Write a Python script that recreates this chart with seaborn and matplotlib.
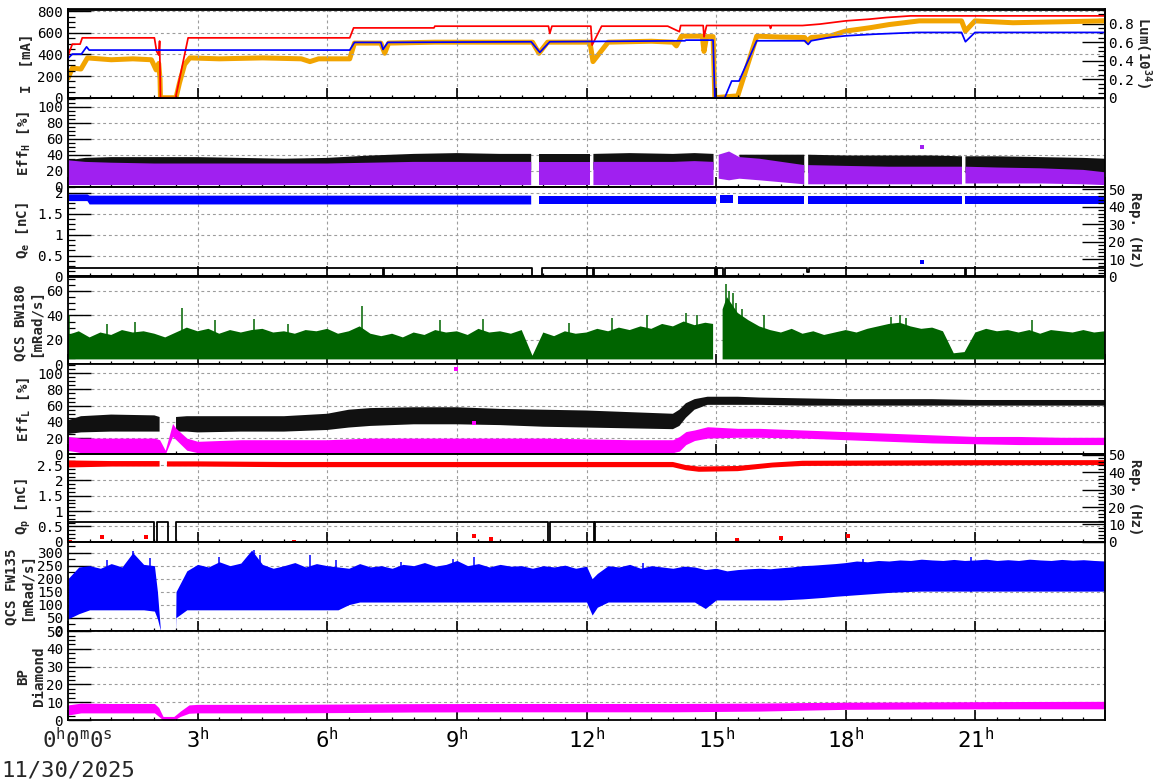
import numpy as np
import matplotlib
matplotlib.use("Agg")
import matplotlib.pyplot as plt
import seaborn as sns
from matplotlib.ticker import MultipleLocator, AutoMinorLocator, FuncFormatter

nan = np.nan

# ---------------- Panel 1: beam currents [mA] and luminosity ----------------
t_red = [0, 0.1, 0.28, 0.33, 2.0, 2.05, 2.1, 2.12, 2.14, 2.49,
         2.78, 6.52, 6.61, 8.47, 8.49, 11.12, 11.15, 11.2, 12.1, 12.13,
         12.35, 13.88, 14.15, 14.18, 14.7, 14.72, 14.78, 16.24, 16.26, 16.28,
         17.0, 17.4, 18.0, 18.56, 18.94, 19.5, 24]
i_red = [390, 495, 495, 553, 553, 430, 394, 523, 0, 0,
         553, 553, 645, 645, 661, 661, 594, 661, 661, 486,
         661, 661, 610, 667, 667, 563, 667, 667, 640, 667,
         667, 680, 710, 726, 741, 756, 756]

t_blue = [0, 0.1, 0.31, 0.43, 0.49, 6.52, 6.63, 7.24, 7.29, 7.4,
          10.72, 10.92, 11.15, 14.28, 14.3, 14.93, 14.97, 15.2, 15.36, 15.53,
          15.94, 17.05, 17.13, 17.2, 17.63, 18.0, 18.67, 19.64, 20.68, 20.77,
          20.99, 24]
i_blue = [363, 403, 403, 470, 440, 440, 511, 511, 446, 511,
          517, 419, 517, 526, 532, 532, 0, 0, 154, 154,
          526, 526, 492, 526, 557, 572, 587, 603, 603, 517,
          603, 603]

t_lum = [0, 0.1, 0.3, 0.45, 1.0, 1.5, 1.93, 2.04, 2.1, 2.13,
         2.14, 2.5, 2.58, 2.7, 2.82, 3.5, 4.5, 5.4, 5.6, 5.8,
         6.52, 6.63, 7.24, 7.33, 7.42, 8.5, 9.5, 10.75, 10.9, 11.1,
         12.08, 12.15, 12.5, 13.5, 14.0, 14.08, 14.2, 14.68, 14.72, 14.78,
         14.93, 14.97, 15.5, 15.94, 16.5, 17.05, 17.1, 17.2, 17.63, 18.0,
         18.56, 19.0, 19.7, 20.68, 20.77, 20.99, 21.87, 24]
lum = [0.21, 0.32, 0.31, 0.43, 0.41, 0.42, 0.41, 0.30, 0.37, 0.20,
       0.0, 0.0, 0.16, 0.36, 0.43, 0.42, 0.43, 0.42, 0.39, 0.42,
       0.42, 0.59, 0.59, 0.48, 0.59, 0.60, 0.60, 0.60, 0.48, 0.60,
       0.60, 0.39, 0.60, 0.61, 0.60, 0.56, 0.665, 0.665, 0.50, 0.66,
       0.66, 0.0, 0.02, 0.665, 0.655, 0.65, 0.61, 0.65, 0.665, 0.72,
       0.756, 0.79, 0.83, 0.83, 0.72, 0.83, 0.81, 0.83]

# ---------------- Panel 2: Eff_H [%] ----------------
t_effh = [0, 0.4, 1, 2, 3, 4, 5, 6, 7, 8,
          9, 10, 10.72, 10.8, 10.9, 11.5, 12.07, 12.11, 12.16, 13,
          14, 14.5, 14.94, 15.0, 15.06, 15.3, 15.54, 16, 17.04, 17.08,
          17.13, 18, 19, 20, 20.69, 20.73, 20.77, 21.5, 22.5, 23.5, 24]
effh_blk_hi = [33, 36, 37, 37, 37, 36, 35, 36, 39, 41,
               42, 41, 41, nan, 41, 41, 41, nan, 41, 42,
               41, 42, 41, nan, nan, nan, 40, 40, 40, nan,
               40, 39, 39, 39, 38, nan, 38, 38, 37, 36, 35]
effh_blk_lo = [22, 23, 23, 23, 23, 23, 23, 23, 22, 21,
               21, 21, 21, nan, 21, 21, 21, nan, 21, 21,
               21, 21, 21, nan, nan, nan, 19, 18, 17, nan,
               17, 17, 17, 17, 17, nan, 17, 17, 17, 16, 16]
effh_pur_hi = [33, 31, 30, 29, 29, 29, 29, 29, 30, 31,
               31, 31, 31, nan, 31, 31, 31, nan, 31, 31,
               31, 32, 31, nan, 40, 44, 37, 35, 27, nan,
               27, 26, 25, 25, 25, nan, 25, 24, 23, 21, 18]
effh_pur_lo = [2, 2, 2, 2, 2, 2, 2, 2, 2, 2,
               2, 2, 2, nan, 2, 2, 2, nan, 2, 2,
               2, 2, 2, nan, 10, 8, 10, 8, 3, nan,
               3, 3, 3, 3, 3, nan, 4, 4, 4, 3, 2]
effh_out_t = [19.77]
effh_out_v = [50]

# ---------------- Panel 3: Q_e [nC] and Rep. (Hz) ----------------
t_qe = [0, 0.45, 0.5, 2, 4, 6, 8, 10, 10.72, 10.8,
        10.9, 12, 14, 14.99, 15.04, 15.1, 15.39, 15.44, 15.5, 17.04,
        17.08, 17.13, 19, 20.69, 20.73, 20.77, 22, 24]
qe_hi = [1.96, 1.96, 1.93, 1.93, 1.93, 1.93, 1.93, 1.93, 1.93, nan,
         1.93, 1.93, 1.93, 1.93, nan, 1.95, 1.95, nan, 1.93, 1.93,
         nan, 1.93, 1.93, 1.93, nan, 1.93, 1.93, 1.93]
qe_lo = [1.80, 1.80, 1.72, 1.72, 1.72, 1.72, 1.72, 1.72, 1.72, nan,
         1.72, 1.72, 1.72, 1.72, nan, 1.75, 1.75, nan, 1.72, 1.72,
         nan, 1.72, 1.72, 1.72, nan, 1.72, 1.72, 1.72]
qe_out_t = [19.77]
qe_out_v = [0.34]
t_rep_e = [0, 7.28, 7.32, 10.75, 10.97, 12.14, 12.17, 14.98, 15.01, 15.17,
           15.21, 17.11, 17.14, 20.75, 20.78, 24]
rep_e = [4.9, 0, 4.9, 0, 4.9, 0, 4.9, 0, 4.9, 0,
         4.9, 2.5, 4.9, 0, 4.9, 4.9]

# ---------------- Panel 4: QCS BW180 [mRad/s] ----------------
bw_base = 4
t_bw = np.r_[np.arange(0, 14.76, 0.25), [14.93, 15.0, 15.15], np.arange(15.25, 24.01, 0.25)]
bw_top = [24, 27, 22, 26, 24, 28, 26, 27, 25, 22, 26, 30,
          27, 29, 25, 28, 26, 28, 29, 26, 27, 25, 28, 27,
          29, 25, 27, 31, 25, 23, 25, 22, 26, 24, 28, 26,
          27, 24, 29, 26, 27, 25, 28, 7, 26, 23, 27, 25,
          26, 29, 27, 30, 28, 31, 29, 33, 31, 35, 32, 34,
          33, nan, 45,
          55, 42, 36, 31, 28, 26, 29, 25, 27, 24, 26, 28,
          26, 29, 31, 33, 34, 31, 29, 30, 27, 9, 10, 26,
          29, 27, 28, 26, 28, 25, 28, 27, 26, 28, 26, 27]
bw_spk_t = [0.02, 0.9, 1.55, 2.64, 3.4, 4.3, 5.1, 6.8, 8.6, 9.6, 11.6, 12.6, 13.4,
            14.3, 14.55, 15.22, 15.3, 15.38, 15.45, 15.6, 16.1, 19.05, 19.25, 19.4, 22.3]
bw_spk_v = [40, 33, 35, 46, 36, 37, 33, 48, 36, 37, 34, 38, 40,
            42, 40, 66, 60, 58, 50, 45, 40, 39, 40, 38, 36]

# ---------------- Panel 5: Eff_L [%] ----------------
t_effl = [0, 0.3, 1, 2, 2.12, 2.25, 2.42, 2.5, 2.75, 3,
          4, 5, 6, 6.5, 7, 8, 9, 10, 11, 12,
          13, 14, 14.15, 14.3, 14.5, 14.8, 15.5, 16, 17, 18,
          19, 20, 21, 22, 23, 24]
effl_blk_hi = [42, 47, 49, 48, 46, nan, nan, 46, 47, 47,
               47, 47, 50, 55, 57, 58, 58, 56, 55, 54,
               52, 50, 55, 63, 68, 71, 71, 70, 69, 68,
               68, 68, 67, 67, 67, 67]
effl_blk_lo = [25, 27, 28, 28, 28, nan, nan, 28, 28, 27,
               28, 28, 30, 33, 35, 37, 37, 36, 34, 33,
               32, 31, 35, 45, 55, 61, 61, 61, 60, 60,
               60, 60, 60, 60, 60, 60]
effl_mag_hi = [22, 20, 20, 20, 18, 5, 38, 32, 20, 16,
               18, 18, 18, 19, 20, 20, 20, 20, 20, 19,
               18, 18, 22, 28, 30, 34, 32, 32, 30, 28,
               26, 24, 22, 22, 21, 21]
effl_mag_lo = [5, 2, 2, 2, 2, 0, 22, 18, 5, 2,
               2, 2, 2, 2, 2, 2, 2, 2, 2, 2,
               2, 2, 4, 12, 17, 20, 21, 21, 20, 18,
               16, 14, 13, 12, 12, 12]
effl_out_t = [8.97, 9.4]
effl_out_v = [105, 39]

# ---------------- Panel 6: Q_p [nC] and Rep. (Hz) ----------------
t_qp = [0, 1, 2, 2.12, 2.2, 2.29, 3, 5, 7, 9,
        11, 13, 14, 14.3, 14.6, 15.5, 16.3, 17, 19, 21, 24]
qp_hi = [2.65, 2.63, 2.63, 2.63, nan, 2.62, 2.62, 2.6, 2.6, 2.6,
         2.6, 2.6, 2.6, 2.5, 2.45, 2.47, 2.58, 2.64, 2.65, 2.66, 2.66]
qp_lo = [2.42, 2.45, 2.45, 2.45, nan, 2.45, 2.45, 2.43, 2.43, 2.43,
         2.43, 2.43, 2.43, 2.33, 2.28, 2.3, 2.42, 2.47, 2.48, 2.49, 2.5]
qp_out_t = [0.05, 0.79, 1.8, 5.22, 9.4, 9.79, 15.49, 16.5, 18.05]
qp_out_v = [0.0, 0.14, 0.14, 0.0, 0.18, 0.09, 0.04, 0.13, 0.18]
t_rep_p = [0, 1.98, 2.06, 2.31, 2.49, 11.12, 11.15, 12.17, 12.2, 24]
rep_p = [11.2, 0, 11.2, 0, 11.2, 0, 11.2, 0, 11.2, 11.2]

# ---------------- Panel 7: QCS FW135 [mRad/s] ----------------
t_fw = np.r_[np.arange(0, 2.01, 0.25), [2.07, 2.14, 2.49],
             np.arange(2.5, 12.01, 0.25), [12.13], np.arange(12.25, 24.01, 0.25)]
fw_lo = ([45, 65, 80, 80, 80, 80, 80, 80, 75] + [45, 0, 0] +
         [50, 80] + [80] * 14 + [100] + [110] * 22 + [60] +
         [90] + [110] * 9 + [85] + [118] * 7 +
         [120, 122, 125, 128, 132, 135, 138, 141, 144, 147, 149, 151] + [152] * 18)
fw_hi = ([200, 245, 250, 240, 258, 245, 300, 255, 250] + [150, 0, 0] +
         [150, 230] +
         [255, 245, 265, 250, 260, 310, 255, 240, 250, 262, 245, 258, 250, 245] + [240] +
         [258, 245, 250, 240, 255, 250, 262, 248, 255, 270, 250, 258, 245, 255, 248,
          250, 240, 250, 245, 252, 240, 248] + [200] +
         [220] + [250, 245, 255, 240, 250, 245, 240, 248, 245] + [235] +
         [240, 230, 235, 238, 240, 238, 242] +
         [245, 250, 252, 255, 258, 262, 268, 265, 270, 268, 272, 270] +
         [275, 272, 270, 274, 270, 272, 275, 270, 273, 270, 275, 272, 270, 274, 271, 273, 270, 268])
fw_spk_t = [0.9, 1.5, 1.9, 3.5, 4.3, 4.45, 5.6, 6.2, 7.7, 8.9, 9.4, 13.3, 18.4, 20.9]
fw_spk_v = [270, 306, 280, 285, 310, 290, 290, 270, 265, 275, 285, 260, 275, 285]

# ---------------- Panel 8: BP Diamond ----------------
t_bp = [0, 0.3, 1, 2, 2.1, 2.2, 2.45, 2.6, 2.8, 3,
        5, 6.5, 8, 10, 12, 14, 16, 17, 18, 20, 22, 24]
bp_hi = [8.5, 9.5, 9.3, 9.3, 7, 2, 2, 5, 8.5, 8.8,
         8.8, 9, 9.2, 9.3, 9.3, 9.3, 9.5, 9.8, 10, 10.2, 10.4, 10.5]
bp_lo = [2.8, 4, 4, 4, 2, 0, 0, 2, 3.8, 4,
         4, 4.2, 4.5, 4.6, 4.6, 4.6, 5, 5.5, 6, 6.2, 6.3, 6.3]

# ---------------- colours / text ----------------
C_RED, C_BLUE, C_ORANGE = "#ff0000", "#0000ff", "#f2a400"
C_BLACK, C_PURPLE, C_GREEN, C_MAG = "#111111", "#a020f0", "#006400", "#ff00ff"
x_hours = [3, 6, 9, 12, 15, 18, 21]
date_text = "11/30/2025"

sns.set_theme(style="white")
plt.rcParams["font.family"] = ["DejaVu Sans Mono", "DejaVu Sans"]
plt.rcParams["mathtext.fontset"] = "custom"
plt.rcParams["mathtext.rm"] = "DejaVu Sans Mono"
plt.rcParams["mathtext.it"] = "DejaVu Sans Mono"
plt.rcParams["mathtext.sf"] = "DejaVu Sans Mono"
plt.rcParams["mathtext.bf"] = "DejaVu Sans Mono:bold"

W, H = 1172, 782
fig = plt.figure(figsize=(W / 100, H / 100), dpi=100)
fig.patch.set_facecolor("white")
X0, X1 = 68, 1105
edges = [9.5, 97.7, 186.7, 276.5, 364.3, 454.3, 541.7, 630.6, 720.0]
axes = [fig.add_axes([X0 / W, 1 - edges[i + 1] / H, (X1 - X0) / W,
                      (edges[i + 1] - edges[i]) / H]) for i in range(8)]

gfmt = FuncFormatter(lambda v, p: f"{v:g}")
GRID = dict(color="#9c9c9c", linestyle=(0, (2.6, 2.6)), linewidth=0.8)


def style_left(ax, ylim, step, nminor):
    ax.set_xlabel("")
    ax.set_ylabel("")
    ax.set_xlim(0, 24)
    ax.set_ylim(*ylim)
    ax.xaxis.set_major_locator(MultipleLocator(3))
    ax.xaxis.set_minor_locator(MultipleLocator(0.5))
    ax.yaxis.set_major_locator(MultipleLocator(step))
    ax.yaxis.set_minor_locator(AutoMinorLocator(nminor))
    ax.yaxis.set_major_formatter(gfmt)
    ax.tick_params(axis="y", which="major", direction="in", length=16.5, width=1.0,
                   labelsize=10.3, pad=3.5, left=True, right=False,
                   labelleft=True, labelright=False, colors="black")
    ax.tick_params(axis="y", which="minor", direction="in", length=5, width=0.9,
                   left=True, right=False, colors="black")
    ax.tick_params(axis="x", which="major", direction="in", length=7.5, width=1.2,
                   bottom=True, top=False, labelbottom=False, colors="black")
    ax.tick_params(axis="x", which="minor", direction="in", length=2.5, width=0.9,
                   bottom=True, top=False, colors="black")
    ax.grid(True, which="major", axis="both", **GRID)
    ax.set_axisbelow(True)
    for s in ax.spines.values():
        s.set_visible(True)
        s.set_linewidth(1.3)
        s.set_color("black")


def style_right(ax2, ylim, step, nminor):
    ax2.set_ylabel("")
    ax2.set_ylim(*ylim)
    ax2.yaxis.set_major_locator(MultipleLocator(step))
    ax2.yaxis.set_minor_locator(AutoMinorLocator(nminor))
    ax2.yaxis.set_major_formatter(gfmt)
    ax2.tick_params(axis="y", which="major", direction="in", length=16.5, width=1.0,
                    labelsize=10.3, pad=2.5, right=True, left=False,
                    labelright=True, labelleft=False, colors="black")
    ax2.tick_params(axis="y", which="minor", direction="in", length=5, width=0.9,
                    right=True, left=False, colors="black")
    ax2.grid(False)
    for s in ax2.spines.values():
        s.set_linewidth(1.3)
        s.set_color("black")


def band(ax, t, lo, hi, color):
    ax.fill_between(np.asarray(t, float), np.asarray(lo, float), np.asarray(hi, float),
                    color=color, linewidth=0, zorder=2)


def dots(ax, t, v, color):
    sns.scatterplot(x=t, y=v, ax=ax, color=color, marker="s", s=9, linewidth=0, zorder=4)


# Panel 1
ax = axes[0]
ax2 = ax.twinx()
sns.lineplot(x=t_lum, y=lum, ax=ax2, color=C_ORANGE, lw=3.6, sort=False, estimator=None)
sns.lineplot(x=t_red, y=i_red, ax=ax, color=C_RED, lw=1.25, sort=False, estimator=None)
sns.lineplot(x=t_blue, y=i_blue, ax=ax, color=C_BLUE, lw=1.25, sort=False, estimator=None)
ax.set_zorder(ax2.get_zorder() + 1)
ax.patch.set_visible(False)
style_left(ax, (0, 815), 200, 4)
style_right(ax2, (0, 0.953), 0.2, 4)

# Panel 2
ax = axes[1]
band(ax, t_effh, effh_blk_lo, effh_blk_hi, C_BLACK)
band(ax, t_effh, effh_pur_lo, effh_pur_hi, C_PURPLE)
dots(ax, effh_out_t, effh_out_v, C_PURPLE)
style_left(ax, (0, 111.25), 20, 4)

# Panel 3
ax = axes[2]
ax2 = ax.twinx()
sns.lineplot(x=t_rep_e, y=rep_e, ax=ax2, color="black", lw=1.3, drawstyle="steps-post",
             sort=False, estimator=None)
band(ax, t_qe, qe_lo, qe_hi, C_BLUE)
dots(ax, qe_out_t, qe_out_v, C_BLUE)
style_left(ax, (0, 2.144), 0.5, 4)
style_right(ax2, (0, 51.5), 10, 5)

# Panel 4
ax = axes[3]
band(ax, t_bw, [bw_base] * len(bw_top), bw_top, C_GREEN)
ax.vlines(bw_spk_t, bw_base, bw_spk_v, color=C_GREEN, lw=1.1, zorder=2)
style_left(ax, (0, 71.8), 20, 4)

# Panel 5
ax = axes[4]
band(ax, t_effl, effl_blk_lo, effl_blk_hi, C_BLACK)
band(ax, t_effl, effl_mag_lo, effl_mag_hi, C_MAG)
dots(ax, effl_out_t, effl_out_v, C_MAG)
style_left(ax, (0, 111), 20, 4)

# Panel 6
ax = axes[5]
ax2 = ax.twinx()
sns.lineplot(x=t_rep_p, y=rep_p, ax=ax2, color="black", lw=1.3, drawstyle="steps-post",
             sort=False, estimator=None)
band(ax, t_qp, qp_lo, qp_hi, C_RED)
dots(ax, qp_out_t, qp_out_v, C_RED)
style_left(ax, (0, 2.85), 0.5, 4)
style_right(ax2, (0, 50.4), 10, 5)

# Panel 7
ax = axes[6]
band(ax, t_fw, fw_lo, fw_hi, C_BLUE)
ax.vlines(fw_spk_t, 150, fw_spk_v, color=C_BLUE, lw=1.1, zorder=2)
style_left(ax, (0, 342.3), 50, 2)

# Panel 8
ax = axes[7]
band(ax, t_bp, bp_lo, bp_hi, C_MAG)
style_left(ax, (0, 50.3), 10, 4)

# bottom time labels
def xlab(v, p):
    iv = int(round(v))
    if iv in x_hours:
        return r"$\mathrm{%d}^{\mathrm{h}}$" % iv
    return ""


ax.xaxis.set_major_formatter(FuncFormatter(xlab))
ax.tick_params(axis="x", which="major", labelbottom=True, labelsize=16, pad=5)
ax.annotate(r"$\mathrm{0}^{\mathrm{h}}\mathrm{0}^{\mathrm{m}}\mathrm{0}^{\mathrm{s}}$",
            xy=(0, 0), xycoords=("data", "axes fraction"), xytext=(9, -7),
            textcoords="offset pixels", ha="center", va="top", fontsize=16)
fig.text(1 / W, 1 - 777 / H, date_text, fontsize=16, ha="left", va="baseline")

# axis titles
def ylab(txt, xpx, ypx, rot=90):
    fig.text(xpx / W, 1 - ypx / H, txt, rotation=rot, ha="center", va="center",
             fontsize=10.2, fontweight="bold", multialignment="center", linespacing=1.2)


ylab("I  [mA]", 26.7, 63.3)
ylab(r"Eff$_\mathbf{H}$ [%]", 24, 143.3)
ylab(r"Q$_\mathbf{e}$ [nC]", 23, 231)
ylab("QCS BW180\n[mRad/s]", 28, 323)
ylab(r"Eff$_\mathbf{L}$ [%]", 24, 409)
ylab(r"Q$_\mathbf{p}$ [nC]", 23, 507)
ylab("QCS FW135\n[mRad/s]", 19, 587)
ylab("BP\nDiamond", 31, 676.5)
ylab(r"Lum(10$^\mathbf{34}$)", 1143, 53, 270)
ylab("Rep. (Hz)", 1135, 230, 270)
ylab("Rep. (Hz)", 1135, 497, 270)

fig.savefig("out.png", dpi=100, facecolor="white")
